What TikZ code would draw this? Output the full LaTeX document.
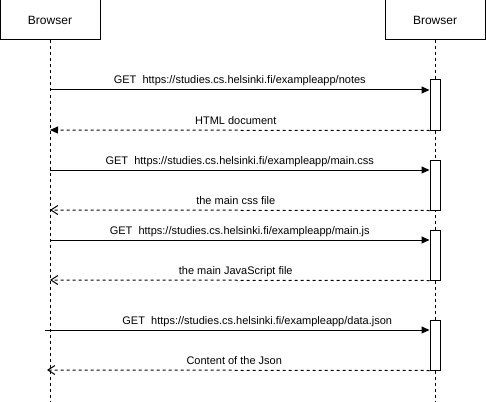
\documentclass[tikz,border=0pt]{standalone}
\usepackage{fontspec}
\setmainfont{Liberation Sans}
\usetikzlibrary{arrows.meta}

\begin{document}
\begin{tikzpicture}[x=1pt, y=-1pt,
    actor/.style={draw, line width=1pt, minimum width=100pt, minimum height=40pt, inner sep=0pt, font=\fontsize{12}{14}\selectfont},
    lifeline/.style={line width=1pt, dash pattern=on 3pt off 3pt},
    activation/.style={draw, fill=white, line width=1pt, minimum width=10pt, minimum height=50pt, inner sep=0pt},
    call/.style={line width=1pt, -{Triangle[length=8pt,width=7pt]}},
    reply/.style={line width=1pt, dash pattern=on 3pt off 3pt, -{Straight Barb[length=7pt,width=9pt]}},
    htmlreply/.style={line width=1pt, dash pattern=on 3pt off 3pt, -{Triangle[length=8pt,width=7pt]}},
    msg/.style={anchor=base, inner sep=0pt, yshift=6pt, font=\fontsize{11}{13}\selectfont},
    answer/.style={msg, xshift=-4pt}]
    \useasboundingbox (0,0) rectangle (486,401);

    \node[actor] (client) at (50,20) {Browser};
    \node[actor] (server) at (435,20) {Browser};
    \coordinate (clientend) at (50,401);
    \coordinate (serverend) at (435,401);
    \draw[lifeline] (client) -- (clientend);
    \draw[lifeline] (server) -- (serverend);

    \node[activation] (notes) at (435,105) {};
    \node[activation] (css) at (435,185) {};
    \node[activation] (js) at (435,255) {};
    \node[activation] (json) at (435,345) {};

    \coordinate (getnotes) at (50,90);
    \coordinate (gotnotes) at (50,130);
    \coordinate (getcss) at (50,170);
    \coordinate (gotcss) at (50,210);
    \coordinate (getjs) at (50,240);
    \coordinate (gotjs) at (50,280);
    \coordinate (getjson) at (45,330);
    \coordinate (gotjson) at (47,370);

    \draw[call] (getnotes) -- (getnotes -| notes.west)
        node[msg, midway] {GET\ \ https://studies.cs.helsinki.fi/exampleapp/notes};
    \draw[htmlreply] (notes.south west) -- (gotnotes)
        node[answer, midway] {HTML document};
    \draw[call] (getcss) -- (getcss -| css.west)
        node[msg, midway] {GET\ \ https://studies.cs.helsinki.fi/exampleapp/main.css};
    \draw[reply] (css.south west) -- (gotcss)
        node[answer, midway] {the main css file};
    \draw[call] (getjs) -- (getjs -| js.west)
        node[msg, midway] {GET\ \ https://studies.cs.helsinki.fi/exampleapp/main.js};
    \draw[reply] (js.south west) -- (gotjs)
        node[answer, midway] {the main JavaScript file};
    \draw[call] (getjson) -- (getjson -| json.west)
        node[msg, midway, xshift=20pt] {GET\ \ https://studies.cs.helsinki.fi/exampleapp/data.json};
    \draw[reply] (json.south west) -- (gotjson)
        node[answer, midway] {Content of the Json};
\end{tikzpicture}
\end{document}
